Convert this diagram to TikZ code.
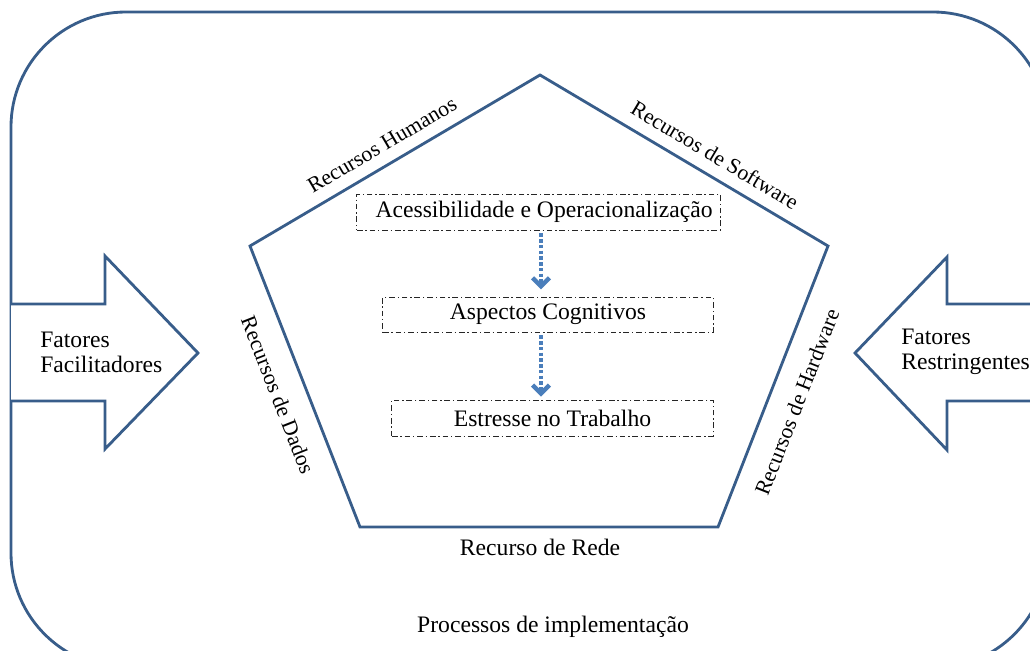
\documentclass[tikz,border=0pt]{standalone}
\usepackage{fontspec}
\setmainfont{Liberation Serif}
\usetikzlibrary{arrows.meta}
\definecolor{edgeblue}{RGB}{56,93,138}
\definecolor{flowblue}{RGB}{74,126,187}
\tikzset{
  shapeline/.style={draw=edgeblue, line width=2pt, line join=miter},
  dashbox/.style={draw=black!85, line width=0.7pt, dash pattern=on 4pt off 2pt on 1pt off 2pt, inner sep=0pt, font=\fontsize{16.8}{18}\selectfont},
  lbl/.style={font=\fontsize{16.8}{18}\selectfont, inner sep=0pt},
  sidelbl/.style={font=\fontsize{15.5}{18}\selectfont, inner sep=0pt},
  flow/.style={draw=flowblue, line width=3.2pt, dash pattern=on 2.5pt off 1.6pt,
    -{Straight Barb[length=6pt,width=12pt,line width=3.2pt,line cap=butt]}},
}
\begin{document}
\begin{tikzpicture}[x=0.025cm,y=-0.025cm]
\useasboundingbox (0,0) rectangle (1030,650);
\begin{scope}
\clip (0,0) rectangle (1030,650);
% outer rounded frame
\draw[shapeline, rounded corners=2.875cm] (11,12) rectangle (1048,668);
% pentagon
\draw[shapeline] (540,75) -- (828,246) -- (718,527) -- (360,527) -- (250,246) -- cycle;
% left arrow
\draw[shapeline, fill=white] (11,304) -- (105,304) -- (105,256) -- (198,353) -- (105,449) -- (105,401) -- (11,401);
% right arrow
\draw[shapeline, fill=white] (1040,304) -- (947,304) -- (947,257) -- (855,353) -- (947,450) -- (947,401) -- (1040,401);
\end{scope}
% arrow texts
\node[lbl, align=left, anchor=west, font=\fontsize{16.8}{17.8}\selectfont] (ff) at (40,352) {Fatores\\Facilitadores};
\node[lbl, align=left, anchor=west, font=\fontsize{16.8}{17.8}\selectfont] (fr) at (901,352) {Fatores\\Restringentes};
% side labels
\node[sidelbl, rotate=30.5] (rh) at (382,145) {Recursos Humanos};
\node[sidelbl, rotate=-30.7] (rs) at (715,155) {Recursos de Software};
\node[sidelbl, rotate=-68.6] (rd) at (278,395) {Recursos de Dados};
\node[sidelbl, rotate=68.6] (rhw) at (797,402) {Recursos de Hardware};
\node[lbl] (rr) at (540,547) {Recurso de Rede};
\node[lbl] (pi) at (553,627) {Processos de implementação};
% inner boxes
\node[dashbox, minimum width=9.075cm, minimum height=0.9cm] (b1) at (538.5,212) {\hspace*{8pt}Acessibilidade e Operacionalização};
\node[dashbox, minimum width=8.25cm, minimum height=0.875cm] (b2) at (548,314.5) {Aspectos Cognitivos};
\node[dashbox, minimum width=8.025cm, minimum height=0.9cm] (b3) at (552.5,418) {Estresse no Trabalho};
\coordinate (ax) at (541,0);
\draw[flow, shorten <=2pt, shorten >=5pt] (b1.south -| ax) -- (b2.north -| ax);
\draw[flow, shorten <=2pt, shorten >=2pt] (b2.south -| ax) -- (b3.north -| ax);
\end{tikzpicture}
\end{document}
